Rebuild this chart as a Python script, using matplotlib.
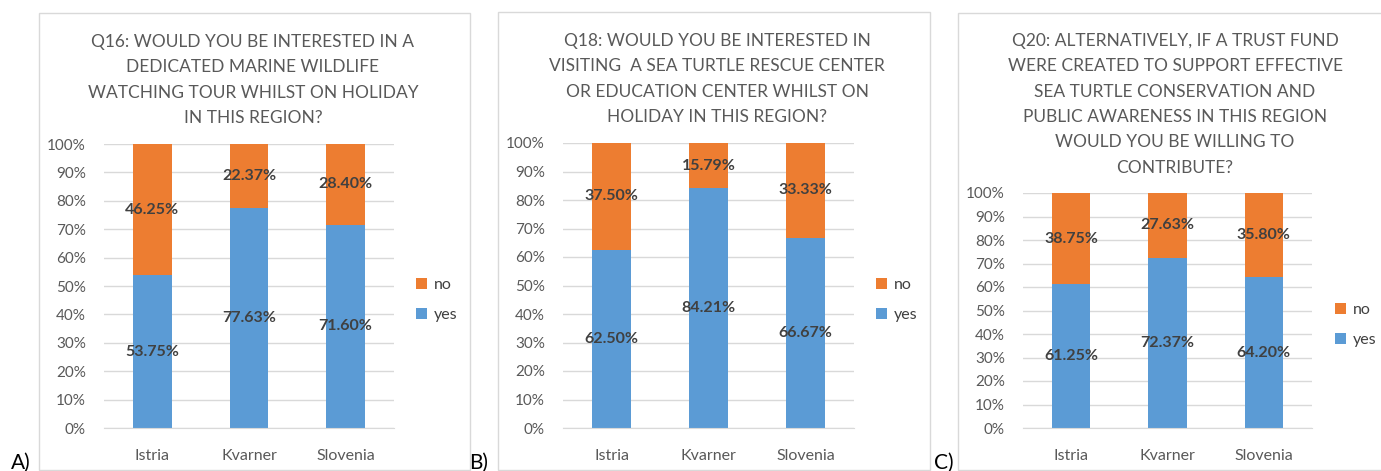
import numpy as np
import matplotlib.pyplot as plt
from matplotlib.patches import Rectangle

# Survey answers per region, three questions, stacked yes/no shares (%)
regions = ["Istria", "Kvarner", "Slovenia"]

q16_yes = [53.75, 77.63, 71.60]
q16_no = [46.25, 22.37, 28.40]
q18_yes = [62.50, 84.21, 66.67]
q18_no = [37.50, 15.79, 33.33]
q20_yes = [61.25, 72.37, 64.20]
q20_no = [38.75, 27.63, 35.80]

q16_title = ("Q16: WOULD YOU BE INTERESTED IN A\nDEDICATED MARINE WILDLIFE\n"
             "WATCHING TOUR WHILST ON HOLIDAY\nIN THIS REGION?")
q18_title = ("Q18: WOULD YOU BE INTERESTED IN\nVISITING  A SEA TURTLE RESCUE CENTER\n"
             "OR EDUCATION CENTER WHILST ON\nHOLIDAY IN THIS REGION?")
q20_title = ("Q20: ALTERNATIVELY, IF A TRUST FUND\nWERE CREATED TO SUPPORT EFFECTIVE\n"
             "SEA TURTLE CONSERVATION AND\nPUBLIC AWARENESS IN THIS REGION\n"
             "WOULD YOU BE WILLING TO\nCONTRIBUTE?")

BLUE = "#5B9BD5"
ORANGE = "#ED7D31"
GRID = "#D9D9D9"
TXT = "#595959"
LBL = "#404040"

plt.rcParams['font.family'] = ['Lato', 'DejaVu Sans']

W, H = 1381, 471
fig = plt.figure(figsize=(W / 100, H / 100), dpi=100)
fig.patch.set_facecolor("white")


def px_rect(x0, y0, x1, y1):
    # pixel box (top-left origin) -> figure fraction rect
    return [x0 / W, 1 - y1 / H, (x1 - x0) / W, (y1 - y0) / H]


def panel(frame, plot_box, title, title_xy, yes, no, legend_xy, letter_xy, letter):
    fx0, fy0, fx1, fy1 = frame
    fig.patches.append(Rectangle((fx0 / W, 1 - fy1 / H), (fx1 - fx0) / W, (fy1 - fy0) / H,
                                 transform=fig.transFigure, facecolor="none",
                                 edgecolor=GRID, linewidth=1.0))

    ax = fig.add_axes(px_rect(*plot_box))
    x = np.arange(len(regions))
    yes = np.array(yes)
    no = np.array(no)
    b_yes = ax.bar(x, yes, width=0.4, color=BLUE, label="yes", zorder=2)
    b_no = ax.bar(x, no, width=0.4, bottom=yes, color=ORANGE, label="no", zorder=2)

    for xi, y_, n_ in zip(x, yes, no):
        ax.text(xi, y_ / 2, f"{y_:.2f}%", ha="center", va="center",
                fontsize=11.5, fontweight="bold", color=LBL, zorder=3)
        ax.text(xi, y_ + n_ / 2, f"{n_:.2f}%", ha="center", va="center",
                fontsize=11.5, fontweight="bold", color=LBL, zorder=3)

    ax.set_xlim(-0.5, 2.5)
    ax.set_ylim(0, 100)
    ax.set_yticks(np.arange(0, 101, 10))
    ax.set_yticklabels([f"{v}%" for v in range(0, 101, 10)])
    ax.set_xticks(x)
    ax.set_xticklabels(regions)
    ax.yaxis.grid(True, color=GRID, linewidth=1.0, zorder=0)
    ax.set_axisbelow(True)
    for s in ["top", "right", "left"]:
        ax.spines[s].set_visible(False)
    ax.spines["bottom"].set_color(GRID)
    ax.tick_params(axis="both", length=0, colors=TXT)
    ax.tick_params(axis="y", labelsize=11, pad=13)
    ax.tick_params(axis="x", labelsize=11.5, pad=15)

    fig.text(title_xy[0] / W, 1 - title_xy[1] / H, title, ha="center", va="top",
             fontsize=12.5, color=TXT, linespacing=1.72)

    fig.legend(handles=[b_no, b_yes], labels=["no", "yes"],
               loc="upper left", bbox_to_anchor=(legend_xy[0] / W, 1 - legend_xy[1] / H),
               frameon=False, fontsize=11.5, handlelength=0.7, handleheight=0.7,
               handletextpad=0.4, labelspacing=1.0, borderaxespad=0,
               borderpad=0, labelcolor=LBL)

    fig.text(letter_xy[0] / W, 1 - letter_xy[1] / H, letter, ha="left",
             va="baseline", fontsize=15, color="black")
    return ax


panel((39, 13, 470, 470), (104, 144, 394, 428), q16_title, (253, 34),
      q16_yes, q16_no, (416, 278), (11, 469), "A)")
panel((498, 12, 930, 470), (563, 143, 854, 428), q18_title, (717, 33),
      q18_yes, q18_no, (876, 278), (469, 469), "B)")
panel((958, 13, 1395, 470), (1023, 193, 1312, 428), q20_title, (1175, 33),
      q20_yes, q20_no, (1335, 303), (934, 469), "C)")

fig.savefig("out.png", dpi=100, facecolor="white")
